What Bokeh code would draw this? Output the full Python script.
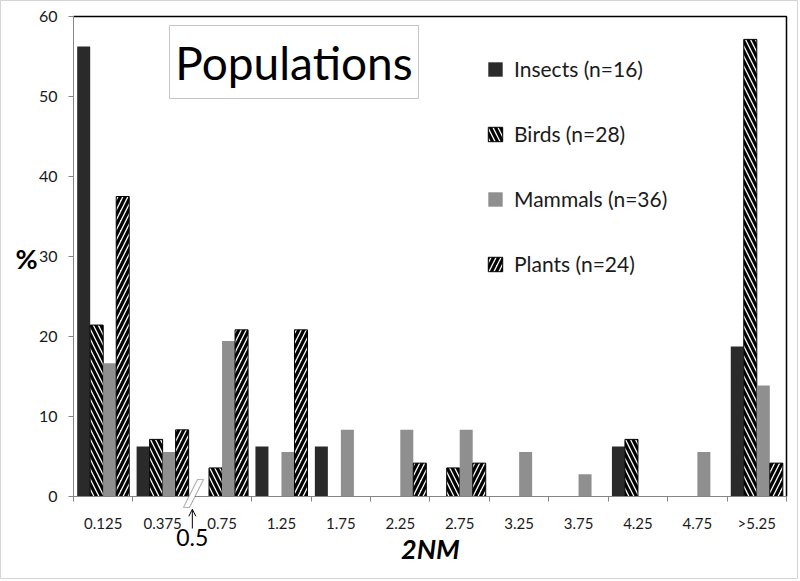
from bokeh.plotting import figure
from bokeh.models import (Range1d, FixedTicker, Legend, LegendItem, Label, BoxAnnotation,
                          Arrow, OpenHead, PolyAnnotation, ColumnDataSource)
from bokeh.embed import file_html
from bokeh.resources import INLINE

categories = ["0.125", "0.375", "0.75", "1.25", "1.75", "2.25", "2.75",
              "3.25", "3.75", "4.25", "4.75", ">5.25"]
insects = [56.25, 6.25, 0, 6.25, 6.25, 0, 0, 0, 0, 6.25, 0, 18.75]
birds = [21.43, 7.14, 3.57, 0, 0, 0, 3.57, 0, 0, 7.14, 0, 57.14]
mammals = [16.67, 5.56, 19.44, 5.56, 8.33, 8.33, 8.33, 5.56, 2.78, 0, 5.56, 13.89]
plants = [37.5, 8.33, 20.83, 20.83, 0, 4.17, 4.17, 0, 0, 0, 0, 4.17]
series_names = ["Insects (n=16)", "Birds (n=28)", "Mammals (n=36)", "Plants (n=24)"]
y_ticks = [0, 10, 20, 30, 40, 50, 60]

FONT = "Lato"
GRAY_AX = "#868686"
TXT = "#1a1a1a"

x_lo, x_hi = -0.5, len(categories) - 0.5
y_lo, y_hi = y_ticks[0], y_ticks[-1]

# frame covers the whole figure; axes are placed at fixed locations inside it
p = figure(width=798, height=579, x_range=Range1d(-1.7286, 11.702), y_range=Range1d(-10.375, 62),
           output_backend="svg", toolbar_location=None,
           min_border_left=0, min_border_right=0, min_border_top=0, min_border_bottom=0)
p.outline_line_color = "#d4d4d4"
p.grid.visible = False
p.background_fill_color = "white"
p.border_fill_color = "white"

bw = 0.219
styles = [
    dict(fill_color="#2a2a2a", line_color=None),
    dict(fill_color="white", line_color="black", line_width=1,
         hatch_pattern="left_diagonal_line", hatch_color="black", hatch_weight=3.2, hatch_scale=10),
    dict(fill_color="#8f8f8f", line_color=None),
    dict(fill_color="white", line_color="black", line_width=1,
         hatch_pattern="right_diagonal_line", hatch_color="black", hatch_weight=3.2, hatch_scale=10),
]
items = []
for k, (vals, name, st) in enumerate(zip([insects, birds, mammals, plants], series_names, styles)):
    xs = [i + (k - 1.5) * bw for i, v in enumerate(vals) if v > 0]
    ys = [v for v in vals if v > 0]
    src = ColumnDataSource(dict(x=xs, top=ys))
    r = p.vbar(x="x", top="top", bottom=0, width=bw, source=src, **st)
    items.append(LegendItem(label=name, renderers=[r]))

# top and right frame border lines
p.line(x=[x_lo, x_hi, x_hi], y=[y_hi, y_hi, y_lo], line_color="black", line_width=1.5)

legend = Legend(items=items, location=(486, 303), glyph_width=18, glyph_height=18,
                label_text_font=FONT, label_text_font_size="21px", label_text_color=TXT,
                spacing=40, padding=0, margin=0, label_standoff=10,
                border_line_alpha=0, background_fill_alpha=0)
p.add_layout(legend, "center")

# axes
p.yaxis.fixed_location = x_lo
p.yaxis.bounds = (y_lo, y_hi)
p.yaxis.ticker = FixedTicker(ticks=y_ticks)
p.yaxis.axis_line_color = GRAY_AX
p.yaxis.major_tick_line_color = GRAY_AX
p.yaxis.major_tick_in = 0
p.yaxis.major_tick_out = 5
p.yaxis.minor_tick_line_color = None
p.yaxis.major_label_text_font = FONT
p.yaxis.major_label_text_font_size = "16px"
p.yaxis.major_label_text_color = TXT
p.yaxis.major_label_standoff = 11

p.xaxis.fixed_location = y_lo
p.xaxis.bounds = (x_lo, x_hi)
p.xaxis.ticker = FixedTicker(ticks=list(range(len(categories))),
                             minor_ticks=[i - 0.5 for i in range(len(categories) + 1)])
p.xaxis.major_label_overrides = {i: c for i, c in enumerate(categories)}
p.xaxis.axis_line_color = GRAY_AX
p.xaxis.major_tick_line_color = None
p.xaxis.major_tick_in = 0
p.xaxis.major_tick_out = 0
p.xaxis.minor_tick_line_color = GRAY_AX
p.xaxis.minor_tick_in = 0
p.xaxis.minor_tick_out = 5
p.xaxis.major_label_text_font = FONT
p.xaxis.major_label_text_font_size = "15px"
p.xaxis.major_label_text_color = TXT
p.xaxis.major_label_standoff = 12

# axis titles
p.add_layout(Label(x=-1.291, y=29.75, text="%", text_align="center", text_baseline="middle",
                   text_font=FONT, text_font_style="bold", text_font_size="27px", text_color="black"))
p.add_layout(Label(x=5.508, y=-6.5, text="2NM", text_align="center", text_baseline="middle",
                   text_font=FONT, text_font_style="bold italic", text_font_size="27px",
                   text_color="black"))

# title box
p.add_layout(BoxAnnotation(left=1.116, right=5.306, top=58.875, bottom=49.75,
                           fill_alpha=0, line_color="#404040", line_width=1))
p.add_layout(Label(x=3.211, y=54.25, text="Populations", text_align="center",
                   text_baseline="middle", text_font=FONT, text_font_size="46px",
                   text_color="black"))

# axis break mark and 0.5 annotation
p.add_layout(PolyAnnotation(xs=[1.351, 1.452, 1.688, 1.587], ys=[-1.375, -1.375, 2.125, 2.125],
                            fill_color="white", fill_alpha=1, line_color="black", line_width=1.2,
                            level="overlay"))
p.add_layout(Arrow(x_start=1.5, y_start=-4.0, x_end=1.5, y_end=-1.6,
                   end=OpenHead(size=7, line_width=1, line_color="black"),
                   line_color="black", line_width=1))
p.add_layout(Label(x=1.5, y=-5.15, text="0.5", text_align="center", text_baseline="middle",
                   text_font=FONT, text_font_size="23px", text_color="black"))

open("out.html", "w").write(file_html(p, INLINE))
